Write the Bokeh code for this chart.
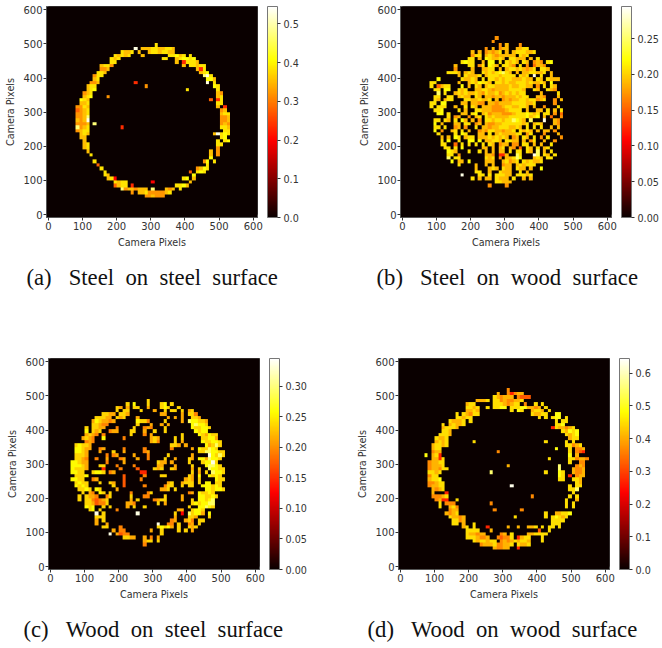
import numpy as np
from bokeh.embed import file_html
from bokeh.resources import INLINE
from bokeh.layouts import column, row
from bokeh.models import ColorBar, FixedTicker, LinearColorMapper, NumeralTickFormatter, Title
from bokeh.plotting import figure

# Each row: y bin -> "first x bin:levels"; '.' is an empty bin, digits index the level values.
steel_steel = {
49:"31:5",48:"25:8 27:4445544554",47:"21:5445 26:4 29:45545544",46:"19:54545 27:4 35:556 38:45 41:5",
45:"18:545 33:55 37:456656",44:"18:55 37:4 39:1 40:5554",43:"15:4553 39:4 41:55455",42:"15:334 43:4 44:1 45:5",
41:"14:554 44:4 45:56",40:"13:355 45:78 47:5",39:"13:45 46:66 48:4",38:"12:334 25:1 46:8 48:5",
37:"11:45 13:5 28:3 48:65",36:"11:456 40:5 49:5",35:"10:345 49:43",34:"10:456 17:3 49:45",
33:"9:654 47:2 49:1 50:5",32:"9:445 49:5 50:5",31:"8:3354 49:4 51:1",30:"8:2345 50:34",
29:"8:3345 50:455",28:"8:3345 11:7 50:334",27:"8:4345 11:8 50:3 51:34",26:"8:3334 13:7 50:343",
25:"8:7345 21:1 50:554",24:"8:345 11:5 51:55",23:"9:454 48:4 49:8 50:5 51:65",22:"9:44 50:5 51:6",
21:"10:4 49:5 51:56",20:"10:45 49:55",19:"10:45 49:3",18:"11:4 47:4 49:3",17:"12:5 47:4 49:3",
16:"47:6",15:"13:5 45:36 48:5",14:"14:2 46:5",13:"15:5 43:3465",12:"16:5 41:2 43:565",
11:"16:54 42:6",10:"17:45 19:0 39:56 42:4",9:"19:5455 30:0 41:4",8:"19:2455 24:1 37:5564",
7:"21:7344 25:3444 30:7 34:434 38:5",6:"24:3 26:4 27:453333345",5:"28:334333",
}
steel_wood = {
51:"27:3",50:"26:3",49:"28:3.4 34:3",48:"24:3 26:4.344 33:4455",47:"20:4 22:4 24:3 25:4345.4.4555445",
46:"20:3 21:55 24:4 25:54344444.545",45:"19:55 22:4 24:65 26:4454.55444.4.5",44:"17:56 19:55 23:4 25:66 28:5 30:5454.54.343.56",
43:"15:4 19:55 22:3 23:5.654.5543.5.3.2443",42:"15:3 20:4 23:4455 28:4.45544 34:54345 40:554",
41:"13:555 16:4 18:4 19:54 23:545 26:456754.4.44554.5.4 39:44",40:"16:4 18:54 20:445.4 25:55545555.545.8 40:5 43:4",
39:"10:6 17:54454 23:5.5545455444544.54.5.44 42:54",38:"8:55 16:4 19:4546554 27:554544555454 39:454 43:6",
37:"8:5 10:2 11:455 17:6 19:4.5 22:4.45544445445544 39:3.5 43:54",36:"9:55 12:66 16:545 20:.445543444455554 38:54 42:543",
35:"10:7 12:5 15:45454 20:4543544534545455 40:4 45:5",34:"9:55 13:55 16:4544 21:54.4434434445455 39:443 45:4",
33:"9:54.5 12:455 17:.5544 22:5445.4.3434455455.4 39:34 41:5 44:3 46:4",32:"8:55 11:66 17:44 20:4433 25:4434444555544 38:5 44:3",
31:"8:5 10:55 12:5 15:4 18:5 20:54 23:44433345544554.4 41:3 45:5",30:"9:556 16:5 18:4 21:554 24:44333345555.4 39:44.5 44:4.5",
29:"10:66 13:5 17:44 20:56 23:45344433345556545.7 41:55.3 46:2",28:"13:5 15:34 19:3 21:45 24:54 26:54444555 34:556456 41:4.2 46:3",
27:"9:55.54 15:5 17:64.4 22:3 24:55455455 32:7654.7...8 44:43",26:"9:6 11:4 15:44 18:55 21:34 24:43 26:34455555545.44 39:54 44:43",
25:"9:55 12:5 15:34 18:3 21:5.443 26:445554454.5.5 40:5 43:4.4",24:"9:6 11:3 14:45.5 18:.4 22:34355443445.5454.4 41:44 44:3",
23:"10:5 15:5 17:65 22:44.5.4 28:5444455.3 37:5 41:3 45:4",22:"11:4 13:4 15:65.455 22:44 24:4545454.34.54 38:5 40:3 42:5 46:3",
21:"11:5 13:6 16:5 18:.66 22:6.44554.5544.4.3 37:.5 41:4 44:3",20:"11:55 15:2 17:5.5 21:5 23:5.54 28:344.33.4 35:55.4 40:4 43:5",
19:"12:55 15:5 17:6 23:44 26:4.45.43.2 35:.54.5 40:.45",18:"13:654 19:5 21:.5 24:4.4 27:.44.5.5 34:5 36:54.7.4 43:5",
17:"13:55.3 24:443 28:11 30:4 33:75 37:.87.54 44:5",16:"13:7.5 16:5 24:545 28:3 30:445 33:76 38:45 40:4.5 43:5",
15:"14:6 16:44 19:6 24:444 28:.4 30:5345 35:54554 38:4 40:5",14:"16:5 21:4 24:4 26:4 29:344 33:4545 37:55",13:"20:.4 25:45 27:4 29:544 33:544 37:4 40:6",
12:"21:55 25:4 28:5444 34:5 36:4",11:"17:8 22:55 25:5 27:5 28:5544 33:5554 37:5",10:"20:5 22:4 24:44 27:5 28:444.5 35:4 37:4",
9:"27:55444",8:"25:3 30:3",
}
wood_steel = {
48:"28:5",47:"22:5 24:6 28:5 32:56 35:5",46:"19:54 22:4 24:55 28:4 32:565 37:5",45:"19:5 21:55 26:5 30:4 33:5 35:55 38:5 40:45",
44:"15:5544 20:554 32:44 38:4 40:553",43:"13:55544 19:545 25:4 34:4 36:4 38:4 41:554",42:"12:4654434 25:6553 33:5 38:4 40:766554",
41:"12:554 15:33 25:5 29:4 32:4 34:4 41:67665",40:"10:5 12:554 15:4 19:3 24:5 27:343 33:5 41:655665",39:"10:6 12:545 17:344 23:55 27:4 30:5 33:5 42:6566",
38:"10:4543 15:3 23:5 27:3 29:4 38:5 43:654655",37:"9:4543 15:6 21:3 29:454 36:5 38:5 44:55664",36:"10:343 29:453 36:5 38:4 44:655665",35:"7:56554 35:554 39:4 45:64575",
34:"7:66544 14:3 15:4 21:3 27:3 35:3 41:4 43:655765",33:"7:6654 14:4 18:5 21:4 27:34 43:55776655",32:"7:5554 16:3 18:34 24:4 28:3 34:5 41:4 46:86575",
31:"7:5543 13:3 16:4 20:34 25:4 28:3 33:5 36:4 40:54 43:6647665",30:"6:66544 16:3 21:4 31:544 35:4 40:5 44:56685",29:"6:66654 14:5 15:5 19:3 24:3 31:44 36:4 41:5 45:67765",
28:"6:65554 15:1 20:3 25:2 30:545 35:54 41:4 43:5 46:76655",27:"6:6655 12:5665 17:34 26:11 41:5 43:4 45:5 47:7665",26:"7:5556 21:2 27:3 32:55 40:54 43:6 46:6565",
25:"6:6655 12:34 21:2 26:3 39:454 43:5 47:.655",24:"7:5655 14:5 17:54 21:2 34:45 38:4555 43:5 45:66.55",23:"7:6565 18:5 21:2 27:3 33:3 34:55 38:5 40:55 44:666565",
22:"8:5565 13:65 19:4 32:445 36:5 45:665665",21:"9:5 11:43 14:65 17:5 23:3 28:35 40:3 41:4 43:65565",20:"8:5 10:5443 16:35 23:5 27:33 33:5 38:4 43:665565",
19:"8:5 10:553 13:2343 16:5 23:4 25:5 30:3455 38:4 41:5 43:66567",18:"10:5542 14:33 16:5 22:443 31:5 33:4 41:565 44:6677",17:"10:656 15:5 17:5 22:4 24:5 27:5 40:5 43:66765",
16:"11:56 14:5 19:3 37:44 41:5665",15:"13:8 15:5 25:8 36:5 38:0 40:75664 46:6",14:"13:555 36:4 40:554 46:5",13:"13:4 15:5 35:3 36:4 39:453 43:55",12:"13:4 16:4 31:8 34:33 37:5 40:34 43:5",
11:"15:55 20:3 31:5656 35:4 37:5 40:54 42:5",10:"18:4 19:.3 20:33 29:4 32:5 37:5 39:5 40:.4",9:"17:8 19:4233 32:5",8:"21:55 23:44 27:4 29:3 31:4",7:"27:4 28:55 31:5",6:"27:3",
}
wood_wood = {
51:"31:3",50:"28:4 31:3 32:1 33:344",49:"27:54 29:344 32:4 34:3 35:222",48:"22:4445 27:5534 31:3344 35:5",47:"19:455 27:55543455 36:3 39:5 41:5",
46:"19:5545 25:5 27:5566 32:5 33:5566 37:4434 42:5",45:"19:4454 32:5 34:65 38:4554 43:5",44:"16:5 18:54355 38:5445 42:5 45:66",43:"16:554 19:55 40:5 42:5 44:5 45:66 48:5",
42:"14:54445 20:5 45:5 47:55",41:"12:5 14:45445 45:5 46:56",40:"12:45 14:554 44:1 45:545 47:4 48:345",39:"12:55 14:4 47:5 48:4656",38:"11:55 13:54 48:5 49:456",
37:"10:5445 49:455",36:"10:4545 21:5 42:5 48:5 50:5",35:"9:4554 13:5 48:55 50:345",34:"9:455 45:6 49:5 51:334",33:"9:344 28:3 49:5 51:32 53:1",32:"7:6 9:451 49:6 51:4",
31:"9:4415 43:5 49:55 51:3443",30:"8:34455 49:5 52:33",29:"8:34445 31:4 46:7 51:343",28:"8:34435 13:5 46:7 50:4334",27:"8:5545 26:7 42:5 46:6 47:5 50:4334",26:"8:355 46:65 49:1 51:344",
25:"8:4556 46:5 47:5 50:554",24:"8:33455 51:54",23:"8:3445 12:5 32:8 49:5 51:55",22:"9:4345 49:55 51:7",21:"9:4 13:1 50:5",20:"9:33345 38:3 49:5 51:5",19:"10:3411 16:5 48:5 51:4",
18:"11:5 13:333 26:3 48:5 50:5",17:"11:5 14:453 48:5 50:5",16:"14:344 27:3 35:3",15:"13:4345 42:5 45:44556",14:"14:54434 33:5 42:5 44:56545",13:"15:5534 44:5 45:55 47:5",
12:"15:55 18:4 21:5 44:55 46:5",11:"18:45 21:5 25:1 31:4 34:4 37:445 41:5 43:55 46:5",10:"19:5555 26:4 40:2 43:5",9:"19:544 22:34 24:4 29:34 32:5 37:4455 41:55",8:"19:5555 22:4334 28:3 29:233 32:5 34:1 35:455 41:5",
7:"21:54554 26:55 29:343455 34:455 37:4 41:5",6:"23:3444 27:5 28:33445 34:5445",5:"27:433 30:4 31:4 34:1",
}

# Values of the level digits 0..8, per panel
steel_steel_levels = [.196, .235, .28, .32, .355, .385, .41, .47, .53]
steel_wood_levels = [.106, .125, .155, .172, .19, .207, .222, .25, .288]
wood_steel_levels = [.124, .145, .172, .193, .214, .235, .255, .29, .335]
wood_wood_levels = [.232, .27, .32, .37, .41, .45, .49, .55, .63]

vmaxes = [0.545, 0.295, 0.345, 0.645]
cbar_ticks = [[0, .1, .2, .3, .4, .5], [0, .05, .1, .15, .2, .25],
              [0, .05, .1, .15, .2, .25, .3], [0, .1, .2, .3, .4, .5, .6]]
cbar_formats = ["0.0", "0.00", "0.00", "0.0"]
NB = "\u00a0"
captions = [f"(a){NB*3}Steel{NB*2}on{NB*2}steel{NB*2}surface", f"(b){NB*3}Steel{NB*2}on{NB*2}wood{NB*2}surface",
            f"(c){NB*3}Wood{NB*2}on{NB*2}steel{NB*2}surface", f"(d){NB*3}Wood{NB*2}on{NB*2}wood{NB*2}surface"]
ticks = [0, 100, 200, 300, 400, 500, 600]
label = "Camera Pixels"


def hot_palette(n=256):
    out = []
    for k in range(n):
        f = k / (n - 1)
        r = min(1, 0.0416 + f / 0.365 * 0.9584)
        g = 0 if f < .365 else min(1, (f - .365) / .381)
        b = 0 if f < .746 else (f - .746) / .254
        out.append("#%02x%02x%02x" % (int(r * 255), int(g * 255), int(b * 255)))
    return out


def grid(rows, levels):
    arr = np.zeros((62, 62))
    for j, spec in rows.items():
        for seg in spec.split():
            start, codes = seg.split(":")
            for k, c in enumerate(codes):
                if c != ".":
                    arr[j, int(start) + k] = levels[int(c)]
    return arr


def panel(rows, levels, vmax, cticks, cfmt, caption, left, right, top, height, cap_dx):
    p = figure(frame_width=211, frame_height=211, x_range=(-5.5, 612.5), y_range=(-8.5, 609.5),
               output_backend="svg", toolbar_location=None, min_border_left=left,
               min_border_top=top, min_border_right=right, min_border_bottom=height - top - 211,
               background_fill_color="#0a0000")
    mapper = LinearColorMapper(palette=hot_palette(), low=0, high=vmax)
    p.image(image=[grid(rows, levels)], x=0, y=0, dw=620, dh=620, color_mapper=mapper)
    p.grid.visible = False
    for ax in (p.xaxis[0], p.yaxis[0]):
        ax.ticker = FixedTicker(ticks=ticks)
        ax.axis_label = label
        ax.axis_label_text_font = "DejaVu Sans"
        ax.axis_label_text_font_style = "normal"
        ax.axis_label_text_font_size = "9.6px"
        ax.axis_label_text_color = "#333333"
        ax.axis_label_standoff = 4
        ax.major_label_text_font = "DejaVu Sans"
        ax.major_label_text_font_size = "10px"
        ax.major_label_text_color = "#333333"
        ax.major_label_standoff = 1
        ax.major_tick_in = 0
        ax.major_tick_out = 3
        ax.minor_tick_out = 0
        ax.minor_tick_line_color = None
        ax.axis_line_color = "#555555"
        ax.major_tick_line_color = "#333333"
    p.outline_line_color = "#555555"
    cb = ColorBar(color_mapper=mapper, width=10, height=211, padding=0, margin=0,
                  ticker=FixedTicker(ticks=cticks), major_label_text_font="DejaVu Sans",
                  major_label_text_font_size="9.6px", major_label_text_color="#333333",
                  major_tick_in=0, major_tick_out=3, major_tick_line_color="#333333",
                  bar_line_color="#777777", label_standoff=3, location=(10, 0),
                  formatter=NumeralTickFormatter(format=cfmt))
    p.add_layout(cb, "right")
    p.add_layout(Title(text=caption, align="left", offset=cap_dx, standoff=24,
                       text_font="Liberation Serif", text_font_size="22.7px",
                       text_font_style="normal", text_color="#111111"), "below")
    return p


a = panel(steel_steel, steel_steel_levels, vmaxes[0], cbar_ticks[0], cbar_formats[0], captions[0], 46, 90, 6, 349, -20)
b = panel(steel_wood, steel_wood_levels, vmaxes[1], cbar_ticks[1], cbar_formats[1], captions[1], 53, 41, 6, 349, -24)
c = panel(wood_steel, wood_steel_levels, vmaxes[2], cbar_ticks[2], cbar_formats[2], captions[2], 48, 88, 9, 295, -25)
d = panel(wood_wood, wood_wood_levels, vmaxes[3], cbar_ticks[3], cbar_formats[3], captions[3], 51, 42, 9, 295, -31)
layout = column(row(a, b), row(c, d))
open("out.html", "w").write(file_html(layout, INLINE))
